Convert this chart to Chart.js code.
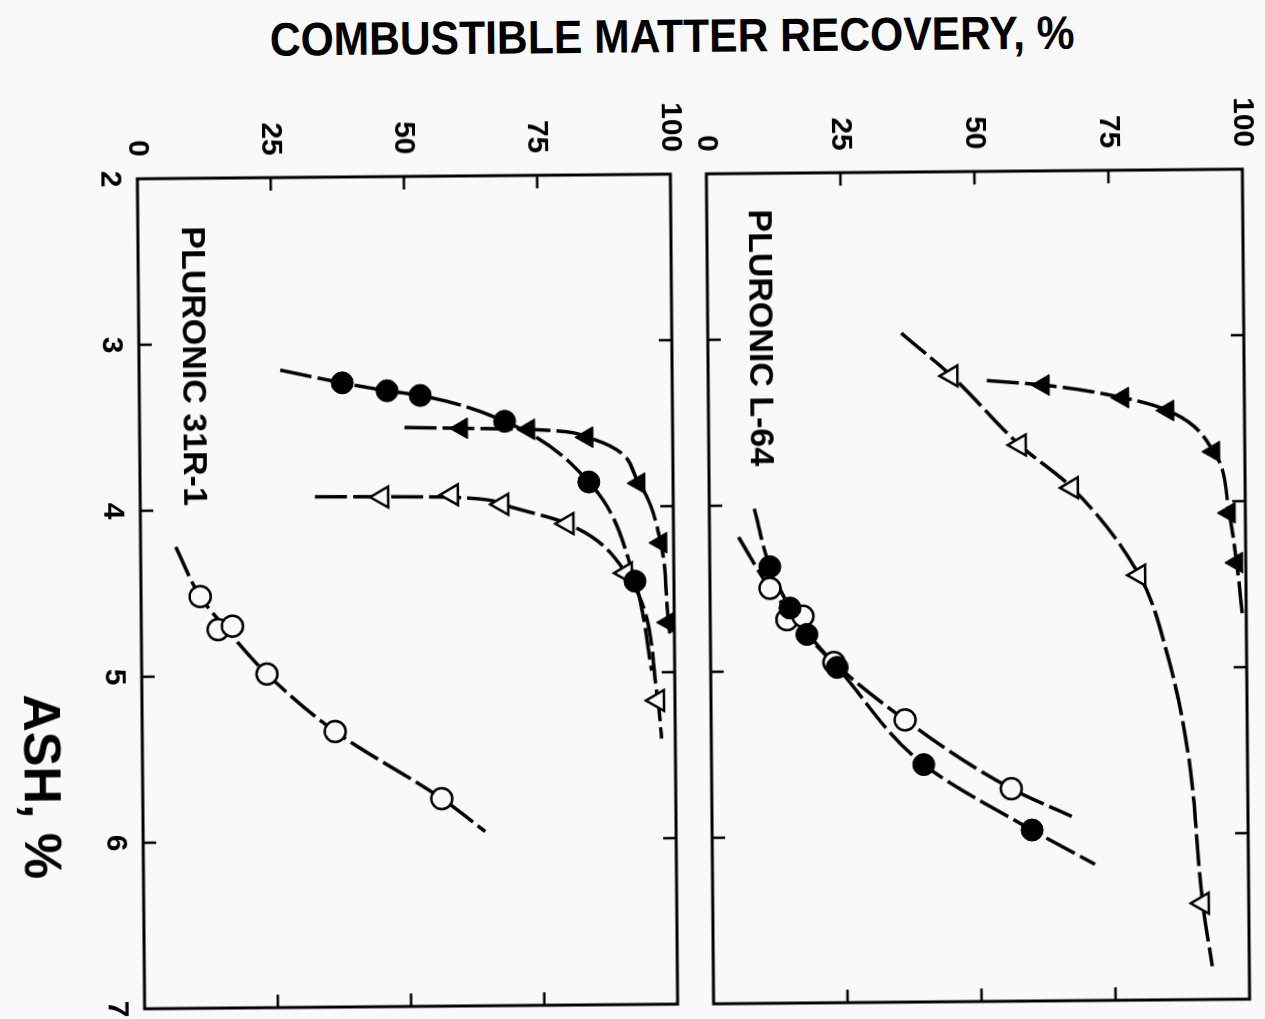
<!DOCTYPE html>
<html>
<head>
<meta charset="utf-8">
<script src="https://cdn.jsdelivr.net/npm/chart.js@4.4.0/dist/chart.umd.min.js"></script>
<style>
  html, body { margin: 0; padding: 0; background: #f9f9f9; overflow: hidden; }
  body { width: 1265px; height: 1019px; position: relative; }
  /* the scan sits a little crooked */
  #page { position: absolute; left: 0; top: 0; width: 1265px; height: 1019px; transform-origin: 690px 590px; transform: rotate(-0.5deg); }
  #title { position: absolute; left: 677px; top: 12px; font: bold 47px "Liberation Sans Narrow", "Liberation Sans", Arial, sans-serif; line-height: 1; white-space: nowrap; color: #000; }
  /* the figure is printed sideways: draw it upright, then turn it 90deg clockwise */
  #rotated { position: absolute; left: 0; top: 0; width: 1019px; height: 1265px; transform-origin: 0 0; transform: translateX(1265px) rotate(90deg); }
  #rotated canvas { position: absolute; left: 0; }
  #ashTitle { position: absolute; left: 781px; top: 1224px; transform: translate(-50%, -50%); font: bold 52px "Liberation Sans", Arial, sans-serif; line-height: 1; white-space: nowrap; color: #000; }
</style>
</head>
<body>
<div id="page">
<div id="title">COMBUSTIBLE MATTER RECOVERY, %</div>
<div id="rotated">
  <canvas id="chartL64" width="1019" height="600" style="top:-13px"></canvas>
  <canvas id="chart31R" width="1019" height="703" style="top:559px"></canvas>
  <div id="ashTitle">ASH, %</div>
</div>
</div>
<script>
// ---- ticks ----
const ashTicks = [2, 3, 4, 5, 6, 7];
const recoveryTicks = [0, 25, 50, 75, 100];

// ---- PLURONIC L-64 ----
const l64FilledTriAsh = [3.29, 3.37, 3.45, 3.70, 4.07, 4.37];
const l64FilledTriRec = [62.5, 77.3, 85.7, 94.2, 97.0, 98.3];
const l64FilledTriFitAsh = [3.26, 3.29, 3.37, 3.45, 3.70, 4.07, 4.37, 4.69];
const l64FilledTriFitRec = [52.0, 62.5, 77.3, 85.7, 94.2, 97.0, 98.3, 99.3];

const l64OpenTriAsh = [3.23, 3.65, 3.91, 4.44, 6.42];
const l64OpenTriRec = [45.4, 58.0, 67.7, 80.1, 91.4];
const l64OpenTriFitAsh = [2.97, 3.23, 3.65, 3.91, 4.44, 4.93, 5.53, 6.42, 6.80];
const l64OpenTriFitRec = [36.1, 45.4, 58.0, 67.7, 80.1, 85.3, 89.0, 91.4, 93.1];

const l64FilledCirAsh = [4.37, 4.62, 4.78, 4.98, 5.57, 5.97];
const l64FilledCirRec = [11.2, 14.9, 18.0, 23.6, 39.6, 59.7];
const l64FilledCirFitAsh = [4.02, 4.37, 4.62, 4.78, 4.98, 5.57, 5.97, 6.18];
const l64FilledCirFitRec = [8.4, 11.2, 14.9, 18.0, 23.6, 39.6, 59.7, 71.4];

const l64OpenCirAsh = [4.50, 4.69, 4.67, 4.95, 5.30, 5.72];
const l64OpenCirRec = [11.2, 14.3, 17.3, 23.0, 36.2, 55.9];
const l64OpenCirFitAsh = [4.19, 4.50, 4.68, 4.95, 5.30, 5.72, 5.89];
const l64OpenCirFitRec = [5.4, 11.2, 15.8, 23.0, 36.2, 55.9, 67.1];

// ---- PLURONIC 31R-1 ----
const r31FilledCirAsh = [3.24, 3.29, 3.32, 3.48, 3.85, 4.45];
const r31FilledCirRec = [38.1, 46.5, 52.7, 68.5, 84.2, 92.7];
const r31FilledCirFitAsh = [3.16, 3.24, 3.29, 3.32, 3.48, 3.85, 4.45, 4.99];
const r31FilledCirFitRec = [26.5, 38.1, 46.5, 52.7, 68.5, 84.2, 92.7, 95.7];

const r31FilledTriAsh = [3.52, 3.53, 3.58, 3.86, 4.22, 4.70];
const r31FilledTriRec = [60.4, 73.0, 83.9, 93.6, 97.6, 98.9];
const r31FilledTriFitAsh = [3.512, 3.52, 3.53, 3.58, 3.86, 4.22, 4.70, 4.78];
const r31FilledTriFitRec = [49.7, 60.4, 73.0, 83.9, 93.6, 97.6, 98.9, 99.2];

const r31OpenTriAsh = [3.93, 3.92, 3.98, 4.10, 4.40, 5.17];
const r31OpenTriRec = [45.4, 58.5, 67.9, 80.1, 91.0, 96.8];
const r31OpenTriFitAsh = [3.925, 3.928, 3.935, 3.98, 4.10, 4.40, 5.17, 5.40];
const r31OpenTriFitRec = [32.8, 45.4, 58.5, 67.9, 80.1, 91.0, 96.8, 97.4];

const r31OpenCirAsh = [4.52, 4.72, 4.70, 4.99, 5.34, 5.75];
const r31OpenCirRec = [11.1, 14.4, 17.1, 23.5, 36.2, 56.1];
const r31OpenCirFitAsh = [4.22, 4.52, 4.71, 4.99, 5.34, 5.75, 5.95];
const r31OpenCirFitRec = [6.6, 11.1, 15.8, 23.5, 36.2, 56.1, 64.2];

const BG = "#f9f9f9";
const INK = "#000";
const FONT = "'Liberation Sans', Arial, sans-serif";

function pts(ash, rec) {
    return ash.map((a, i) => ({ x: a, y: rec[i] }));
}

function fitLine(ash, rec) {
    return {
        data: pts(ash, rec),
        borderColor: INK,
        borderWidth: 3.5,
        borderDash: [32, 6],
        pointRadius: 0,
        cubicInterpolationMode: "monotone",
        fill: false,
        clip: false,
        order: 1,
    };
}

function markers(ash, rec, style, filled) {
    const tri = style === "triangle";
    return {
        data: pts(ash, rec),
        showLine: false,
        pointStyle: style,
        pointRotation: tri ? 180 : 0,
        pointRadius: tri ? 12 : (filled ? 11 : 10.5),
        pointBorderWidth: filled ? 1 : 2.5,
        pointBackgroundColor: filled ? INK : BG,
        pointBorderColor: INK,
        clip: false,
        order: 0,
    };
}

// box round the panel, inward ticks on all four sides, panel name
const framePlugin = {
    id: "frame",
    afterDraw(chart, args, opts) {
        const { ctx, chartArea: a, scales: { x, y } } = chart;
        ctx.save();
        ctx.strokeStyle = INK;
        ctx.lineWidth = 3;
        ctx.strokeRect(a.left, a.top, a.right - a.left, a.bottom - a.top);
        ctx.lineWidth = 2.5;
        ctx.beginPath();
        ashTicks.slice(1, -1).forEach((v) => {
            const px = x.getPixelForValue(v);
            ctx.moveTo(px, a.top); ctx.lineTo(px, a.top + 13);
            ctx.moveTo(px, a.bottom); ctx.lineTo(px, a.bottom - 13);
        });
        recoveryTicks.slice(1, -1).forEach((v) => {
            const py = y.getPixelForValue(v);
            ctx.moveTo(a.left, py); ctx.lineTo(a.left + 13, py);
            ctx.moveTo(a.right, py); ctx.lineTo(a.right - 13, py);
        });
        ctx.stroke();
        ctx.fillStyle = INK;
        ctx.font = "bold 34px " + FONT;
        ctx.textBaseline = "alphabetic";
        ctx.fillText(opts.label, opts.labelX, opts.labelY);
        ctx.restore();
    },
};

function panel(id, datasets, label, labelX, labelY, padding, showAsh) {
    const tickFont = { family: FONT, size: 30, weight: "bold" };
    return new Chart(document.getElementById(id), {
        type: "line",
        data: { datasets },
        options: {
            responsive: false,
            animation: false,
            devicePixelRatio: 1,
            layout: { padding },
            plugins: {
                legend: { display: false },
                tooltip: { enabled: false },
                frame: { label, labelX, labelY },
            },
            scales: {
                x: {
                    type: "linear",
                    min: 2,
                    max: 7,
                    display: showAsh,
                    afterBuildTicks: (s) => { s.ticks = ashTicks.map((v) => ({ value: v })); },
                    afterFit: (s) => { s.height = showAsh ? 138 : 0; },
                    grid: { display: false },
                    border: { display: false },
                    ticks: { font: tickFont, color: INK, padding: 2, maxRotation: 0, autoSkip: false },
                },
                y: {
                    type: "linear",
                    min: 0,
                    max: 100,
                    afterBuildTicks: (s) => { s.ticks = recoveryTicks.map((v) => ({ value: v })); },
                    afterFit: (s) => { s.width = 174; },
                    grid: { display: false },
                    border: { display: false },
                    ticks: { font: tickFont, color: INK, padding: 14, autoSkip: false },
                },
            },
        },
        plugins: [framePlugin],
    });
}

const l64 = panel("chartL64", [
    markers(l64FilledTriAsh, l64FilledTriRec, "triangle", true),
    markers(l64OpenTriAsh, l64OpenTriRec, "triangle", false),
    markers(l64FilledCirAsh, l64FilledCirRec, "circle", true),
    markers(l64OpenCirAsh, l64OpenCirRec, "circle", false),
    fitLine(l64FilledTriFitAsh, l64FilledTriFitRec),
    fitLine(l64OpenTriFitAsh, l64OpenTriFitRec),
    fitLine(l64FilledCirFitAsh, l64FilledCirFitRec),
    fitLine(l64OpenCirFitAsh, l64OpenCirFitRec),
], "PLURONIC L-64", 210, 526, { top: 1, right: 15, bottom: 3, left: 0 }, false);

const r31 = panel("chart31R", [
    markers(r31FilledCirAsh, r31FilledCirRec, "circle", true),
    markers(r31FilledTriAsh, r31FilledTriRec, "triangle", true),
    markers(r31OpenTriAsh, r31OpenTriRec, "triangle", false),
    markers(r31OpenCirAsh, r31OpenCirRec, "circle", false),
    fitLine(r31FilledCirFitAsh, r31FilledCirFitRec),
    fitLine(r31FilledTriFitAsh, r31FilledTriFitRec),
    fitLine(r31OpenTriFitAsh, r31OpenTriFitRec),
    fitLine(r31OpenCirFitAsh, r31OpenCirFitRec),
], "PLURONIC 31R-1", 222, 521, { top: 1, right: 15, bottom: 0, left: 0 }, true);

// squeeze the heading to the printed width
const title = document.getElementById("title");
title.style.transform = "translateX(-50%) scaleX(" + (805 / title.offsetWidth) + ")";
</script>
</body>
</html>
